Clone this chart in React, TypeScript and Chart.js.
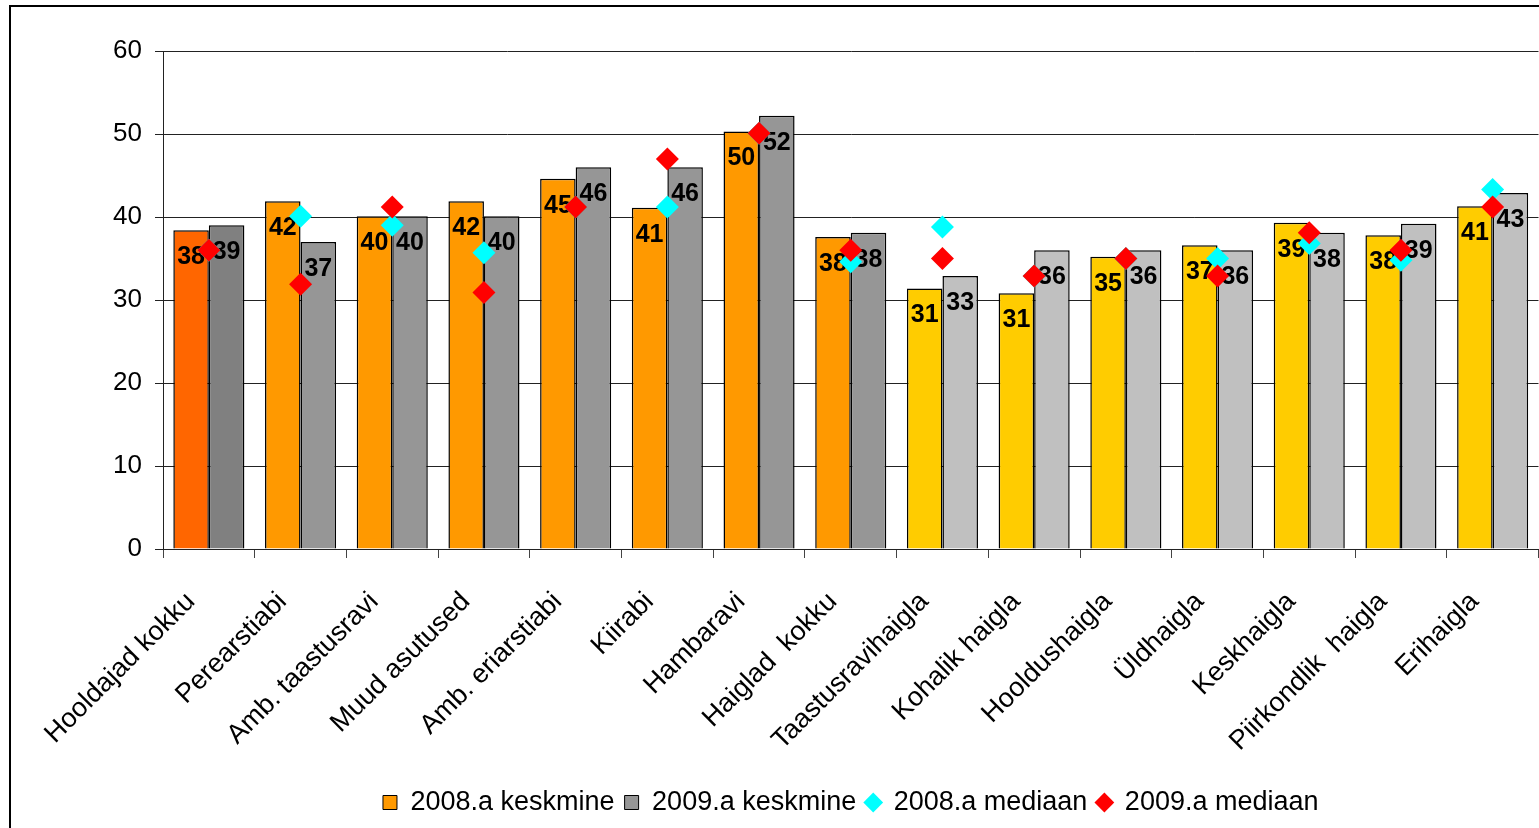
import React, { useEffect, useRef } from "react";
import { Chart, registerables } from "chart.js";

Chart.register(...registerables);

const FONT = "Arial, 'Liberation Sans', sans-serif";

const categories = [
  "Hooldajad kokku",
  "Perearstiabi",
  "Amb. taastusravi",
  "Muud asutused",
  "Amb. eriarstiabi",
  "Kiirabi",
  "Hambaravi",
  "Haiglad  kokku",
  "Taastusravihaigla",
  "Kohalik haigla",
  "Hooldushaigla",
  "Üldhaigla",
  "Keskhaigla",
  "Piirkondlik  haigla",
  "Erihaigla",
];

const seriesLabels = ["2008.a keskmine", "2009.a keskmine", "2008.a mediaan", "2009.a mediaan"];

const mean2008 = [38.4, 41.9, 40.1, 41.9, 44.6, 41.1, 50.3, 37.6, 31.4, 30.8, 35.2, 36.6, 39.3, 37.8, 41.3];
const mean2009 = [39.0, 37.0, 40.1, 40.1, 46.0, 46.0, 52.2, 38.1, 32.9, 36.0, 36.0, 36.0, 38.1, 39.2, 42.9];
const median2008 = [36.0, 40.1, 39.0, 35.7, 41.2, 41.2, 50.1, 34.6, 38.8, 32.9, 35.0, 35.0, 36.8, 34.8, 43.3];
const median2009 = [36.0, 31.9, 41.2, 30.9, 41.2, 47.0, 50.1, 36.0, 35.0, 32.9, 35.0, 32.9, 38.1, 36.0, 41.2];

const yTicks = [0, 10, 20, 30, 40, 50, 60];

const colors2008 = [
  "#FF6600",
  "#FF9900", "#FF9900", "#FF9900", "#FF9900", "#FF9900", "#FF9900", "#FF9900",
  "#FFCC00", "#FFCC00", "#FFCC00", "#FFCC00", "#FFCC00", "#FFCC00", "#FFCC00",
];
const colors2009 = [
  "#808080",
  "#969696", "#969696", "#969696", "#969696", "#969696", "#969696", "#969696",
  "#C0C0C0", "#C0C0C0", "#C0C0C0", "#C0C0C0", "#C0C0C0", "#C0C0C0", "#C0C0C0",
];
const legendFill = ["#FF9900", "#969696", "#00FFFF", "#FF0000"];

const barLabelsPlugin = {
  id: "barLabels",
  afterDatasetDraw(chart: any, args: any) {
    if (args.index !== 0) return;
    const ctx = chart.ctx;
    ctx.save();
    ctx.font = `bold 25px ${FONT}`;
    ctx.fillStyle = "#000";
    ctx.textAlign = "center";
    ctx.textBaseline = "middle";
    [0, 1].forEach((di) => {
      const meta = chart.getDatasetMeta(di);
      meta.data.forEach((el: any, i: number) => {
        const v = chart.data.datasets[di].data[i] as number;
        ctx.fillText(String(Math.round(v)), el.x, el.y + 27);
      });
    });
    ctx.restore();
  },
};

const framePlugin = {
  id: "frame",
  afterDraw(chart: any) {
    const ctx = chart.ctx;
    ctx.save();
    ctx.strokeStyle = "#000";
    ctx.lineWidth = 2;
    ctx.strokeRect(10, 6, chart.width + 100, chart.height + 100);
    ctx.restore();
  },
};

export default function App() {
  const ref = useRef<HTMLCanvasElement | null>(null);

  useEffect(() => {
    if (!ref.current) return;
    const chart = new Chart(ref.current, {
      type: "bar",
      data: {
        labels: categories,
        datasets: [
          {
            type: "bar",
            label: seriesLabels[0],
            data: mean2008,
            backgroundColor: colors2008,
            borderColor: "#000",
            borderWidth: 1.5,
            categoryPercentage: 0.775,
            barPercentage: 1,
            order: 2,
          } as any,
          {
            type: "bar",
            label: seriesLabels[1],
            data: mean2009,
            backgroundColor: colors2009,
            borderColor: "#000",
            borderWidth: 1.5,
            categoryPercentage: 0.775,
            barPercentage: 1,
            order: 2,
          } as any,
          {
            type: "line",
            label: seriesLabels[2],
            data: median2008,
            showLine: false,
            pointStyle: "rectRot",
            pointRadius: 11.5,
            pointHoverRadius: 11.5,
            pointBorderWidth: 0,
            borderWidth: 0,
            backgroundColor: "#00FFFF",
            borderColor: "#00FFFF",
            pointBackgroundColor: "#00FFFF",
            order: 1,
          } as any,
          {
            type: "line",
            label: seriesLabels[3],
            data: median2009,
            showLine: false,
            pointStyle: "rectRot",
            pointRadius: 11.5,
            pointHoverRadius: 11.5,
            pointBorderWidth: 0,
            borderWidth: 0,
            backgroundColor: "#FF0000",
            borderColor: "#FF0000",
            pointBackgroundColor: "#FF0000",
            order: 0,
          } as any,
        ],
      },
      options: {
        responsive: false,
        animation: false,
        devicePixelRatio: 1,
        events: [],
        layout: { padding: { top: 51, left: 0, right: 0, bottom: 2 } },
        scales: {
          x: {
            offset: true,
            grid: {
              offset: true,
              drawOnChartArea: false,
              drawTicks: true,
              tickLength: 9,
              color: "#444",
            },
            border: { color: "#222", width: 1 },
            ticks: {
              autoSkip: false,
              maxRotation: 45,
              minRotation: 45,
              padding: 28,
              labelOffset: -18,
              color: "#000",
              font: { family: FONT, size: 27 },
            },
            afterFit: (scale: any) => {
              scale.height = 230;
            },
          },
          y: {
            min: 0,
            max: 60,
            afterBuildTicks: (scale: any) => {
              scale.ticks = yTicks.map((v) => ({ value: v }));
            },
            grid: {
              color: "#222",
              lineWidth: 1,
              drawTicks: true,
              tickLength: 8,
            },
            border: { color: "#222", width: 1 },
            ticks: {
              padding: 13,
              color: "#000",
              font: { family: FONT, size: 26 },
            },
            afterFit: (scale: any) => {
              scale.width = 163;
            },
          },
        },
        plugins: {
          tooltip: { enabled: false },
          legend: {
            display: true,
            position: "bottom",
            fullSize: false,
            labels: {
              usePointStyle: true,
              boxWidth: 14,
              boxHeight: 14,
              padding: 10,
              color: "#000",
              font: { family: FONT, size: 27 },
              generateLabels: (c: any) => {
                const items = (Chart.defaults.plugins.legend.labels as any).generateLabels(c);
                return items
                  .map((it: any) => {
                    const isBar = it.datasetIndex < 2;
                    return {
                      ...it,
                      fillStyle: legendFill[it.datasetIndex],
                      strokeStyle: isBar ? "#000" : legendFill[it.datasetIndex],
                      lineWidth: isBar ? 1 : 0,
                      pointStyle: isBar ? "rect" : "rectRot",
                    };
                  })
                  .sort((a: any, b: any) => a.datasetIndex - b.datasetIndex);
              },
            },
          },
        },
      } as any,
      plugins: [barLabelsPlugin, framePlugin],
    });
    return () => chart.destroy();
  }, []);

  return (
    <div
      style={{
        position: "fixed",
        left: 0,
        top: 0,
        width: 1539,
        height: 828,
        overflow: "hidden",
        background: "#fff",
      }}
    >
      <canvas ref={ref} width={1550} height={828} style={{ display: "block" }} />
    </div>
  );
}
